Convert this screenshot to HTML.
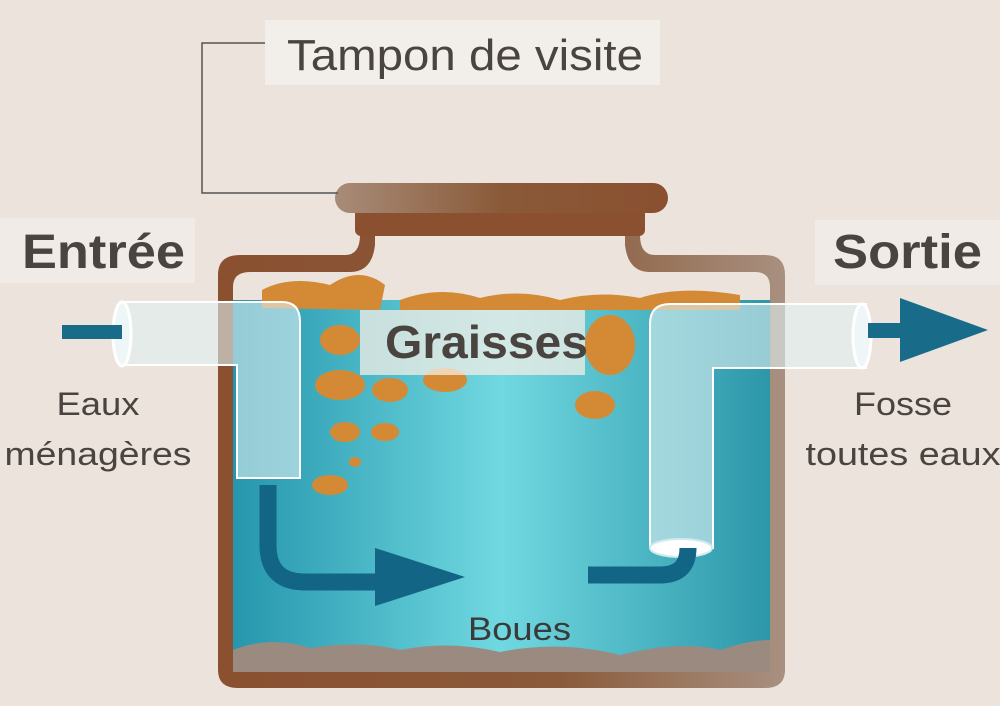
<!DOCTYPE html>
<html><head><meta charset="utf-8"><style>
body{margin:0;width:1000px;height:701px;overflow:hidden;background:#ebe3dc;font-family:"Liberation Sans",sans-serif}
</style></head><body>
<svg width="1000" height="701" viewBox="0 0 1000 701" xmlns="http://www.w3.org/2000/svg">
<defs>
<linearGradient id="w" x1="0" x2="1" y1="0" y2="0">
<stop offset="0" stop-color="#2596ad"/><stop offset="0.5" stop-color="#70d8e0"/><stop offset="1" stop-color="#2d97aa"/>
</linearGradient>
<linearGradient id="lid" x1="0" x2="1"><stop offset="0" stop-color="#a88c78"/><stop offset="0.5" stop-color="#8a5a38"/><stop offset="1" stop-color="#8a5030"/></linearGradient>
<linearGradient id="tank" x1="0" x2="1"><stop offset="0" stop-color="#8a5030"/><stop offset="0.6" stop-color="#8a5a3a"/><stop offset="1" stop-color="#a89080"/></linearGradient>
</defs>
<rect width="1000" height="701" fill="#ebe3dc"/>
<path d="M240 255 H345 Q360 255 360 235 V215 H640 V235 Q640 255 655 255 H765 Q785 255 785 275 V670 Q785 688 765 688 H238 Q218 688 218 670 V275 Q218 255 240 255Z" fill="url(#tank)"/>
<path d="M250 272 H350 Q372 272 375 245 V230 H625 V245 Q628 272 650 272 H755 Q770 272 770 287 V663 Q770 672 755 672 H248 Q233 672 233 663 V287 Q233 272 250 272Z" fill="#ebe3dc"/>
<rect x="233" y="300" width="537" height="372" fill="url(#w)"/>
<path d="M233 650 Q270 635 310 648 Q360 640 400 650 Q450 640 500 652 Q560 640 620 655 Q680 640 720 650 Q750 640 770 640 V672 H233Z" fill="#9a8a80"/>
<rect x="355" y="208" width="290" height="28" rx="6" fill="#8a5030"/>
<rect x="335" y="183" width="333" height="30" rx="15" fill="url(#lid)"/>
<g fill="#d48a35">
<path d="M262 290 Q290 275 330 285 Q360 265 385 285 L380 310 L262 308Z"/>
<path d="M400 300 Q440 285 480 298 Q520 288 560 300 Q600 290 640 298 Q680 285 740 295 L740 310 L400 310Z"/>
<ellipse cx="340" cy="340" rx="20" ry="15"/><ellipse cx="340" cy="385" rx="25" ry="15"/><ellipse cx="390" cy="390" rx="18" ry="12"/>
<ellipse cx="445" cy="380" rx="22" ry="12"/><ellipse cx="345" cy="432" rx="15" ry="10"/><ellipse cx="385" cy="432" rx="14" ry="9"/>
<ellipse cx="330" cy="485" rx="18" ry="10"/><ellipse cx="355" cy="462" rx="6" ry="5"/>
<ellipse cx="595" cy="405" rx="20" ry="14"/><ellipse cx="610" cy="345" rx="25" ry="30"/>
</g>
<g fill="#dff0f2" fill-opacity="0.6" stroke="#ffffff" stroke-width="2">
<path d="M120 302 H282 Q300 302 300 322 V478 H237 V365 H120Z"/>
<path d="M866 304 H670 Q650 304 650 324 V548 H713 V368 H866Z"/>
</g>
<ellipse cx="122" cy="334" rx="9" ry="32" fill="#eef6f7" stroke="#ffffff" stroke-width="3"/>
<ellipse cx="862" cy="336" rx="9" ry="32" fill="#eef6f7" stroke="#ffffff" stroke-width="3"/>
<ellipse cx="681" cy="548" rx="31" ry="9" fill="#ffffff" stroke="#d0eaee" stroke-width="2"/>
<rect x="62" y="325" width="60" height="14" fill="#186c8a"/>
<path d="M868 323 H900 V298 L988 330 L900 362 V338 H868Z" fill="#186c8a"/>
<path d="M268 485 V545 Q268 582 305 582 H378" fill="none" stroke="#126584" stroke-width="17"/>
<path d="M375 548 L465 577 L375 606Z" fill="#126584"/>
<path d="M588 575 H660 Q688 575 688 548" fill="none" stroke="#126584" stroke-width="17"/>
<path d="M268 43 H202 V193 H338" fill="none" stroke="#555" stroke-width="1.5"/>
<rect x="265" y="20" width="395" height="65" fill="#f2eeea"/>
<text x="287" y="70" font-size="44" fill="#4a4440" textLength="356" lengthAdjust="spacingAndGlyphs">Tampon de visite</text>
<rect x="0" y="218" width="195" height="65" fill="#f0ebe6"/>
<text x="22" y="268" font-size="48" font-weight="bold" fill="#4a4440" textLength="163" lengthAdjust="spacingAndGlyphs">Entrée</text>
<rect x="815" y="220" width="185" height="65" fill="#f0ebe6"/>
<text x="833" y="268" font-size="48" font-weight="bold" fill="#4a4440" textLength="149" lengthAdjust="spacingAndGlyphs">Sortie</text>
<rect x="360" y="310" width="225" height="65" fill="#f4ede6" fill-opacity="0.75"/>
<text x="385" y="358" font-size="46" font-weight="bold" fill="#4a4440" textLength="203" lengthAdjust="spacingAndGlyphs">Graisses</text>
<text x="98" y="415" font-size="32" fill="#4a4440" text-anchor="middle" textLength="83" lengthAdjust="spacingAndGlyphs">Eaux</text>
<text x="98" y="465" font-size="32" fill="#4a4440" text-anchor="middle" textLength="187" lengthAdjust="spacingAndGlyphs">ménagères</text>
<text x="903" y="415" font-size="32" fill="#4a4440" text-anchor="middle" textLength="98" lengthAdjust="spacingAndGlyphs">Fosse</text>
<text x="903" y="465" font-size="32" fill="#4a4440" text-anchor="middle" textLength="195" lengthAdjust="spacingAndGlyphs">toutes eaux</text>
<text x="468" y="640" font-size="32" fill="#3a3a3a" textLength="103" lengthAdjust="spacingAndGlyphs">Boues</text>
</svg>
</body></html>
